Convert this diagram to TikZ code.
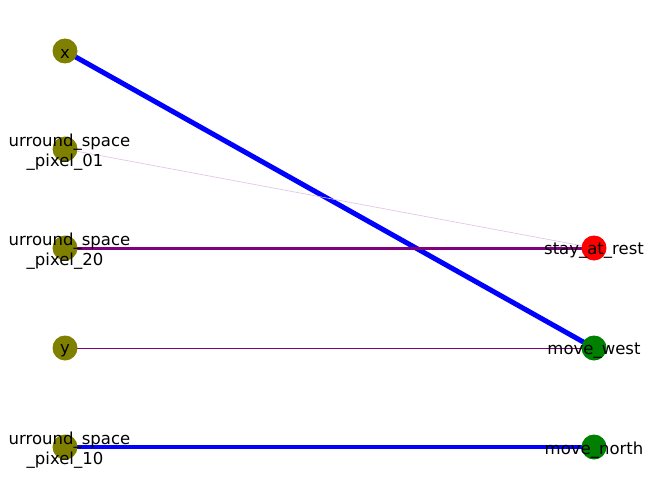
\documentclass[tikz,border=0pt]{standalone}
\usepackage{fontspec}
\setmainfont{DejaVu Sans}
\usetikzlibrary{backgrounds}
\definecolor{olivec}{HTML}{808000}
\definecolor{redc}{HTML}{FF0000}
\definecolor{greenc}{HTML}{008000}
\definecolor{bluec}{HTML}{0000FF}
\definecolor{purplec}{HTML}{800080}
\tikzset{
  vert/.style={circle, inner sep=0pt, minimum size=25pt},
  oliv/.style={vert, fill=olivec},
  redv/.style={vert, fill=redc},
  greenv/.style={vert, fill=greenc},
  lbl/.style={inner sep=0pt, align=center, text=black, yshift=-3pt, font=\fontsize{16.5}{20}\selectfont},
  edge/.style={line cap=butt}
}
\newcommand{\lineA}{\hspace*{9pt}urround\_space}
\begin{document}
\begin{tikzpicture}[x=1pt,y=1pt]
\useasboundingbox (0,0) rectangle (660,499);
% nodes
\node[oliv] (x) at (65,448) {};
\node[oliv] (p01) at (65,350) {};
\node[oliv] (p20) at (65,251) {};
\node[oliv] (y) at (65,151) {};
\node[oliv] (p10) at (65,52) {};
\node[redv] (stay) at (594,251) {};
\node[greenv] (west) at (594,151) {};
\node[greenv] (north) at (594,52) {};
% edges
\begin{scope}[on background layer]
\draw[edge, bluec, line width=5pt] (x.center) -- (west.center);
\draw[edge, purplec!25, line width=0.6pt] (p01.center) -- (stay.center);
\draw[edge, purplec, line width=3pt] (p20.center) -- (stay.center);
\draw[edge, purplec, line width=1pt] (y.center) -- (west.center);
\draw[edge, bluec, line width=4.5pt] (p10.center) -- (north.center);
\end{scope}
% labels
\node[lbl] (lx) at (x) {x};
\node[lbl] (l01) at (p01) {\lineA\\\_pixel\_01};
\node[lbl] (l20) at (p20) {\lineA\\\_pixel\_20};
\node[lbl] (ly) at (y) {y};
\node[lbl] (l10) at (p10) {\lineA\\\_pixel\_10};
\node[lbl] (lstay) at (stay) {stay\_at\_rest};
\node[lbl] (lwest) at (west) {move\_west};
\node[lbl] (lnorth) at (north) {move\_north};
\end{tikzpicture}
\end{document}
